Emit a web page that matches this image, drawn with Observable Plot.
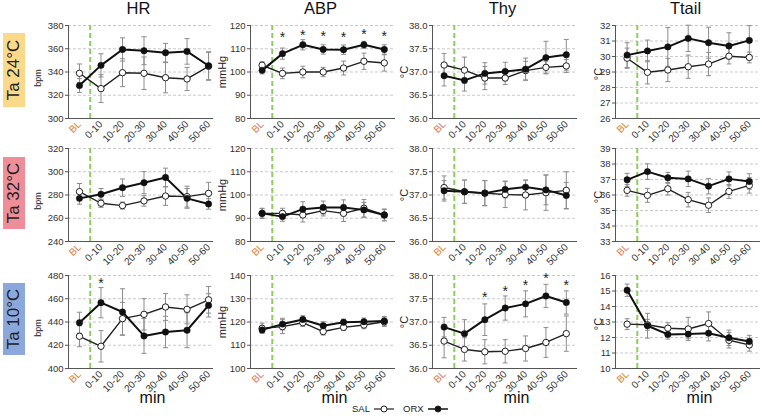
<!DOCTYPE html>
<html><head><meta charset="utf-8">
<script src="https://cdn.jsdelivr.net/npm/d3@7"></script>
<script src="https://cdn.jsdelivr.net/npm/@observablehq/plot@0.6"></script>
<style>
body{margin:0;background:#fff;font-family:"Liberation Sans",Arial,sans-serif;}
#root{position:relative;width:767px;height:417px;overflow:hidden;background:#fff;}
.panel{position:absolute;}
.title{position:absolute;top:-1px;font-size:16.5px;color:#111;transform:translateX(-50%);white-space:nowrap;}
.rowlab{position:absolute;left:3px;width:22px;display:flex;align-items:center;justify-content:center;}
.rowlab span{transform:rotate(-90deg);white-space:nowrap;font-size:17px;color:#222;}
.ylab{position:absolute;white-space:nowrap;color:#222;transform:translate(-50%,-50%) rotate(-90deg);}
.min{position:absolute;top:389px;font-size:16px;color:#111;transform:translateX(-50%);}
.legend{position:absolute;top:403px;font-size:9.5px;color:#222;display:flex;align-items:center;gap:3px;}
</style>
</head><body><div id="root"></div>
<script>
const X_LABELS = ["BL","0-10","10-20","20-30","30-40","40-50","50-60"];
const COLUMNS = ["HR","ABP","Thy","Ttail"];
const ROWS = ["Ta 24°C","Ta 32°C","Ta 10°C"];

// Ta 24°C
const HR_24_SAL = [338.9, 325.7, 339.4, 338.9, 335.1, 334.0, 344.9];
const HR_24_SAL_SE = [8, 12, 12, 14, 13, 10, 12];
const HR_24_ORX = [328.3, 345.7, 359.4, 358.3, 356.6, 357.7, 345.4];
const HR_24_ORX_SE = [6, 10, 10, 12, 8, 11, 12];
const ABP_24_SAL = [102.9, 99.4, 100.0, 100.0, 101.7, 104.6, 103.9];
const ABP_24_SAL_SE = [1.5, 2.3, 2.5, 2.0, 3.0, 3.5, 3.5];
const ABP_24_ORX = [100.7, 107.9, 111.7, 109.7, 109.6, 111.7, 109.7];
const ABP_24_ORX_SE = [1.5, 2.4, 2.2, 2.0, 2.0, 1.5, 2.0];
const THY_24_SAL = [37.15, 37.04, 36.87, 36.87, 37.03, 37.10, 37.13];
const THY_24_SAL_SE = [0.25, 0.28, 0.25, 0.14, 0.2, 0.13, 0.14];
const THY_24_ORX = [36.92, 36.82, 36.97, 37.01, 37.06, 37.31, 37.37];
const THY_24_ORX_SE = [0.22, 0.23, 0.23, 0.2, 0.24, 0.35, 0.33];
const TTAIL_24_SAL = [29.89, 28.98, 29.13, 29.34, 29.51, 30.02, 29.94];
const TTAIL_24_SAL_SE = [0.65, 0.75, 0.75, 0.75, 0.75, 0.5, 0.35];
const TTAIL_24_ORX = [30.09, 30.36, 30.62, 31.17, 30.89, 30.68, 31.04];
const TTAIL_24_ORX_SE = [0.8, 0.7, 1.25, 0.85, 1.0, 0.85, 0.95];

// Ta 32°C
const HR_32_SAL = [282.9, 272.9, 270.9, 274.9, 279.1, 278.6, 281.4];
const HR_32_SAL_SE = [7, 3.5, 3, 4.5, 8, 9, 9.5];
const HR_32_ORX = [277.1, 280.6, 286.3, 290.6, 295.1, 277.1, 272.3];
const HR_32_ORX_SE = [5, 5, 7.5, 9.5, 8, 8.5, 4.5];
const ABP_32_SAL = [92.1, 92.1, 91.4, 93.3, 92.1, 94.3, 91.4];
const ABP_32_SAL_SE = [2.0, 2.2, 3.0, 2.3, 3.5, 3.8, 2.5];
const ABP_32_ORX = [92.1, 90.7, 93.9, 94.6, 94.6, 93.6, 91.4];
const ABP_32_ORX_SE = [2.2, 2.0, 3.2, 2.8, 3.3, 3.2, 2.5];
const THY_32_SAL = [37.16, 37.07, 37.04, 37.01, 37.00, 37.05, 37.10];
const THY_32_SAL_SE = [0.25, 0.25, 0.27, 0.28, 0.32, 0.38, 0.4];
const THY_32_ORX = [37.09, 37.07, 37.04, 37.12, 37.17, 37.11, 36.99];
const THY_32_ORX_SE = [0.22, 0.25, 0.27, 0.18, 0.15, 0.32, 0.28];
const TTAIL_32_SAL = [36.30, 35.98, 36.40, 35.70, 35.34, 36.23, 36.62];
const TTAIL_32_SAL_SE = [0.38, 0.45, 0.4, 0.47, 0.47, 0.45, 0.5];
const TTAIL_32_ORX = [36.98, 37.51, 37.11, 37.04, 36.57, 37.04, 36.87];
const TTAIL_32_ORX_SE = [0.42, 0.5, 0.35, 0.5, 0.5, 0.45, 0.5];

// Ta 10°C
const HR_10_SAL = [427.7, 419.1, 442.9, 446.6, 452.9, 450.9, 459.1];
const HR_10_SAL_SE = [9, 13.5, 14, 13.5, 11.5, 12.5, 11.5];
const HR_10_ORX = [439.4, 456.6, 448.6, 428.0, 431.4, 432.9, 454.3];
const HR_10_ORX_SE = [9, 13, 20, 15, 13.5, 15, 10];
const ABP_10_SAL = [117.3, 118.0, 119.7, 115.9, 117.7, 118.7, 120.1];
const ABP_10_SAL_SE = [2.2, 3.0, 1.6, 1.5, 1.3, 1.6, 2.0];
const ABP_10_ORX = [116.6, 119.1, 121.1, 118.4, 119.9, 120.1, 120.4];
const ABP_10_ORX_SE = [1.2, 2.5, 1.6, 1.7, 1.3, 1.6, 2.0];
const THY_10_SAL = [36.59, 36.41, 36.36, 36.37, 36.43, 36.56, 36.75];
const THY_10_SAL_SE = [0.36, 0.25, 0.26, 0.25, 0.27, 0.32, 0.38];
const THY_10_ORX = [36.89, 36.75, 37.05, 37.30, 37.39, 37.56, 37.42];
const THY_10_ORX_SE = [0.21, 0.3, 0.34, 0.26, 0.28, 0.25, 0.25];
const TTAIL_10_SAL = [12.86, 12.82, 12.6, 12.55, 12.9, 11.82, 11.52];
const TTAIL_10_SAL_SE = [0.35, 0.35, 0.35, 0.75, 0.75, 0.5, 0.4];
const TTAIL_10_ORX = [15.05, 12.76, 12.2, 12.22, 12.28, 11.98, 11.74];
const TTAIL_10_ORX_SE = [0.4, 0.8, 0.3, 0.3, 0.5, 0.5, 0.4];

// significance asterisks (index of time bin, y position)
const ABP_24_STAR_I = [1, 2, 3, 4, 5, 6];
const ABP_24_STAR_Y = [116.0, 116.9, 116.6, 116.1, 117.3, 116.4];
const HR_10_STAR_I = [1];
const HR_10_STAR_Y = [476.0];
const THY_10_STAR_I = [2, 3, 4, 5, 6];
const THY_10_STAR_Y = [37.59, 37.73, 37.84, 38.0, 37.84];

// y scales
const Y_HR = [[300, 380], [240, 320], [400, 480]];
const Y_ABP = [[80, 120], [80, 120], [100, 140]];
const Y_THY = [[36, 38], [36, 38], [36, 38]];
const Y_TTAIL = [[26, 32], [33, 39], [10, 16]];
const STEP = [20, 10, 0.5, 1];
const YLABELS = ["bpm", "mmHg", "°C", "°C"];

const AXIS_X = [68, 250, 432, 615];
const ROW_TOP = [25, 148, 275];
const PW = 145, PH = 93;
const ML = 45, MR = 5, MT = 5, MB = 35;
const FONT = '"Liberation Sans", Arial, Helvetica, sans-serif';

const DATA = [
  [[HR_24_SAL,HR_24_SAL_SE,HR_24_ORX,HR_24_ORX_SE],[ABP_24_SAL,ABP_24_SAL_SE,ABP_24_ORX,ABP_24_ORX_SE],[THY_24_SAL,THY_24_SAL_SE,THY_24_ORX,THY_24_ORX_SE],[TTAIL_24_SAL,TTAIL_24_SAL_SE,TTAIL_24_ORX,TTAIL_24_ORX_SE]],
  [[HR_32_SAL,HR_32_SAL_SE,HR_32_ORX,HR_32_ORX_SE],[ABP_32_SAL,ABP_32_SAL_SE,ABP_32_ORX,ABP_32_ORX_SE],[THY_32_SAL,THY_32_SAL_SE,THY_32_ORX,THY_32_ORX_SE],[TTAIL_32_SAL,TTAIL_32_SAL_SE,TTAIL_32_ORX,TTAIL_32_ORX_SE]],
  [[HR_10_SAL,HR_10_SAL_SE,HR_10_ORX,HR_10_ORX_SE],[ABP_10_SAL,ABP_10_SAL_SE,ABP_10_ORX,ABP_10_ORX_SE],[THY_10_SAL,THY_10_SAL_SE,THY_10_ORX,THY_10_ORX_SE],[TTAIL_10_SAL,TTAIL_10_SAL_SE,TTAIL_10_ORX,TTAIL_10_ORX_SE]]
];
const STARS = {"0,1": [ABP_24_STAR_I, ABP_24_STAR_Y], "2,0": [HR_10_STAR_I, HR_10_STAR_Y], "2,2": [THY_10_STAR_I, THY_10_STAR_Y]};
const YDOM = [Y_HR, Y_ABP, Y_THY, Y_TTAIL];
const LABEL_X = [38, 222, 404, 598];
const LABEL_SIZE = [9, 11, 11, 11];
const LABEL_DY = [6, 0, 0, 2];

const root = document.getElementById("root");

function panel(r, c) {
  const [sal, salSe, orx, orxSe] = DATA[r][c];
  const mk = (vals, ses, g) => vals.map((v, i) => ({i, v, lo: v - ses[i], hi: v + ses[i], g}));
  const S = mk(sal, salSe, "SAL"), O = mk(orx, orxSe, "ORX");
  const all = S.concat(O);
  const domain = YDOM[c][r];
  const ticks = d3.range(domain[0], domain[1] + 1e-9, STEP[c]);
  const fmt = c === 2 ? d3.format(".1f") : d3.format("d");
  const xd = c === 0 ? [-0.51, 6.23] : [-0.57, 6.55];
  const st = STARS[r + "," + c];
  const stars = st ? st[0].map((i, k) => ({i, y: st[1][k]})) : [];
  const ERR = "#8c8c8c", cap = 0.12;
  return Plot.plot({
    width: ML + PW + MR, height: MT + PH + MB,
    marginLeft: ML, marginRight: MR, marginTop: MT, marginBottom: MB,
    style: {background: "transparent", fontFamily: FONT, fontSize: "10px", color: "#333", overflow: "visible"},
    x: {type: "linear", domain: xd, axis: null},
    y: {domain, axis: null},
    marks: [
      Plot.gridY(ticks.slice(1), {stroke: "#c9c9c9", strokeOpacity: 1, strokeDasharray: "3,2"}),
      Plot.ruleX([0.5], {stroke: "#8ccd5c", strokeWidth: 2, strokeDasharray: "5,3"}),
      Plot.ruleX([xd[0]], {stroke: "#555"}),
      Plot.ruleY([domain[0]], {stroke: "#555"}),
      Plot.axisY(ticks, {tickSize: 3, tickPadding: 2, tickFormat: fmt, label: null, stroke: "#555", fill: "#333", fontSize: 9.5}),
      Plot.axisX([0], {tickSize: 0, tickPadding: 4, tickRotate: -45, tickFormat: i => X_LABELS[i], fill: "#e07b39", label: null, fontSize: 10}),
      Plot.axisX([1, 2, 3, 4, 5, 6], {tickSize: 0, tickPadding: 4, tickRotate: -45, tickFormat: i => X_LABELS[i], fill: "#333", label: null, fontSize: 10}),
      Plot.link(all, {x1: "i", x2: "i", y1: "lo", y2: "hi", stroke: ERR, strokeWidth: 1}),
      Plot.link(all, {x1: d => d.i - cap, x2: d => d.i + cap, y1: "hi", y2: "hi", stroke: ERR, strokeWidth: 1}),
      Plot.link(all, {x1: d => d.i - cap, x2: d => d.i + cap, y1: "lo", y2: "lo", stroke: ERR, strokeWidth: 1}),
      Plot.line(S, {x: "i", y: "v", stroke: "#222", strokeWidth: 1.4}),
      Plot.line(O, {x: "i", y: "v", stroke: "#111", strokeWidth: 2}),
      Plot.dot(S, {x: "i", y: "v", r: 3.2, fill: "white", stroke: "#222", strokeWidth: 1}),
      Plot.dot(O, {x: "i", y: "v", r: 3.2, fill: "#111", stroke: "#111", strokeWidth: 0.5}),
      Plot.text(stars, {x: "i", y: "y", text: () => "*", fontSize: 14, dy: 3, fill: "#222"})
    ]
  });
}

for (let r = 0; r < 3; r++) {
  for (let c = 0; c < 4; c++) {
    const div = document.createElement("div");
    div.className = "panel";
    div.style.left = (AXIS_X[c] - ML) + "px";
    div.style.top = (ROW_TOP[r] - MT) + "px";
    div.appendChild(panel(r, c));
    root.appendChild(div);
    const yl = document.createElement("div");
    yl.className = "ylab";
    yl.textContent = YLABELS[c];
    yl.style.left = LABEL_X[c] + "px";
    yl.style.top = (ROW_TOP[r] + PH / 2 + LABEL_DY[c]) + "px";
    yl.style.fontSize = LABEL_SIZE[c] + "px";
    root.appendChild(yl);
  }
}

COLUMNS.forEach((t, c) => {
  const d = document.createElement("div");
  d.className = "title";
  d.textContent = t;
  d.style.left = (AXIS_X[c] + PW / 2 - 2) + "px";
  root.appendChild(d);
  const m = document.createElement("div");
  m.className = "min";
  m.textContent = "min";
  m.style.left = (AXIS_X[c] + PW / 2 + 12) + "px";
  root.appendChild(m);
});

const ROW_COLORS = ["#fad98b", "#ef8e98", "#8aa8dc"];
const BOX_TOP = [33, 157, 283], BOX_H = [74, 72, 72];
ROWS.forEach((t, r) => {
  const d = document.createElement("div");
  d.className = "rowlab";
  d.style.top = BOX_TOP[r] + "px";
  d.style.height = BOX_H[r] + "px";
  d.style.background = ROW_COLORS[r];
  const s = document.createElement("span");
  s.textContent = t;
  d.appendChild(s);
  root.appendChild(d);
});

function legendItem(label, left, filled) {
  const d = document.createElement("div");
  d.className = "legend";
  d.style.left = left + "px";
  const s = document.createElement("span");
  s.textContent = label;
  d.appendChild(s);
  const ns = "http://www.w3.org/2000/svg";
  const svg = document.createElementNS(ns, "svg");
  svg.setAttribute("width", 22); svg.setAttribute("height", 10);
  const ln = document.createElementNS(ns, "line");
  ln.setAttribute("x1", 1); ln.setAttribute("x2", 21); ln.setAttribute("y1", 5); ln.setAttribute("y2", 5);
  ln.setAttribute("stroke", "#222"); ln.setAttribute("stroke-width", filled ? 1.6 : 1.2);
  const ci = document.createElementNS(ns, "circle");
  ci.setAttribute("cx", 11); ci.setAttribute("cy", 5); ci.setAttribute("r", 3);
  ci.setAttribute("fill", filled ? "#111" : "white"); ci.setAttribute("stroke", "#222");
  svg.appendChild(ln); svg.appendChild(ci);
  d.appendChild(svg);
  root.appendChild(d);
}
legendItem("SAL", 352, false);
legendItem("ORX", 403, true);
</script>
</body></html>
